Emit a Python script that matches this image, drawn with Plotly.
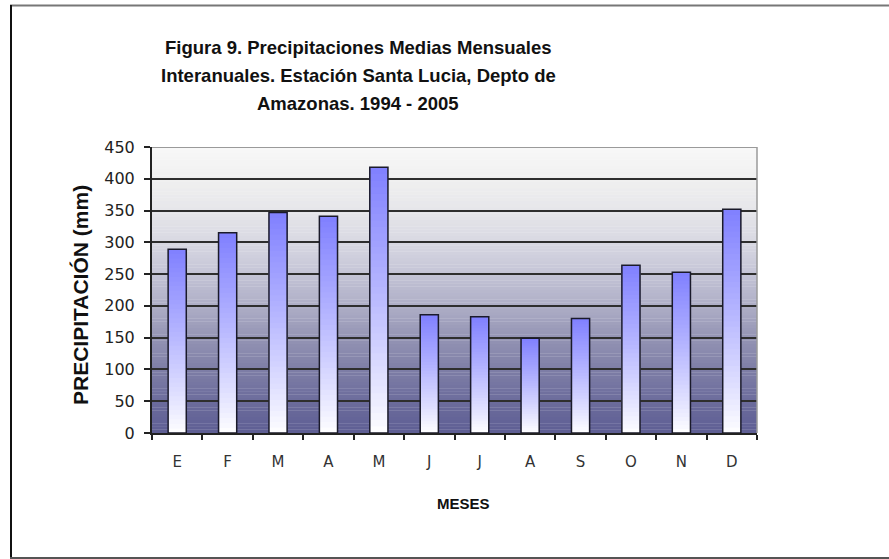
import plotly.graph_objects as go

months = ["E", "F", "M", "A", "M ", "J", "J ", "A ", "S", "O", "N", "D"]
month_labels = ["E", "F", "M", "A", "M", "J", "J", "A", "S", "O", "N", "D"]
precip = [289, 315, 347, 341, 418, 186, 183, 149, 180, 264, 253, 352]
y_ticks = [0, 50, 100, 150, 200, 250, 300, 350, 400, 450]
title_lines = ["Figura 9. Precipitaciones Medias Mensuales",
               "Interanuales. Estación Santa Lucia, Depto de",
               "Amazonas. 1994 - 2005"]

# plot-area pixel geometry
W, H = 889, 559
L, R, T, B = 152, 757, 147, 433
PW, PH = R - L, B - T

def px_x(p):
    return (p - L) / PW

def px_y(p):
    return (B - p) / PH

def lerp(c1, c2, t):
    return tuple(round(a + (b - a) * t) for a, b in zip(c1, c2))

def hexc(c):
    return "#%02x%02x%02x" % c

fig = go.Figure()

# gradient bars: overlapping segments, each from k/N of the bar up to its top
N = 40
top_col = (0x80, 0x80, 0xff)
bot_col = (0xff, 0xff, 0xff)
for k in range(N):
    t = (k + 0.5) / N
    col = hexc(lerp(bot_col, top_col, t ** 0.9))
    fig.add_trace(go.Bar(
        x=months, y=[v * (N - k) / N for v in precip], base=[v * k / N for v in precip],
        marker=dict(color=col, line=dict(width=0)), width=0.36,
        hoverinfo="skip", showlegend=False))
fig.add_trace(go.Bar(
    x=months, y=precip, base=[0] * len(precip),
    marker=dict(color="rgba(0,0,0,0)", line=dict(color="#1a1a2a", width=1.5)),
    width=0.36, showlegend=False, name="Precipitación"))

shapes = []
# background gradient bands
stops = [(0, (0x5e, 0x5e, 0x94)), (50, (0x6c, 0x6c, 0x9c)), (100, (0x7e, 0x7e, 0xa6)),
         (150, (0x94, 0x94, 0xb4)), (200, (0xae, 0xae, 0xc6)), (250, (0xc4, 0xc4, 0xd6)),
         (300, (0xd8, 0xd8, 0xe2)), (350, (0xe6, 0xe6, 0xea)), (400, (0xf0, 0xf0, 0xf0)),
         (450, (0xf8, 0xf8, 0xf8))]
step = 5
for y0 in range(0, 450, step):
    ym = y0 + step / 2
    for (a, ca), (b, cb) in zip(stops[:-1], stops[1:]):
        if a <= ym <= b:
            c = lerp(ca, cb, (ym - a) / (b - a))
            break
    shapes.append(dict(type="rect", xref="paper", yref="y", x0=0, x1=1, y0=y0, y1=y0 + step + 0.5,
                       fillcolor=hexc(c), line=dict(width=0), layer="below"))
# plot-area top and right border (gray)
shapes.append(dict(type="line", xref="paper", yref="y", x0=0, x1=1, y0=450, y1=450,
                   line=dict(color="#9a9a9a", width=2), layer="above"))
shapes.append(dict(type="line", xref="paper", yref="y", x0=1, x1=1, y0=0, y1=450,
                   line=dict(color="#9a9a9a", width=1.5), layer="above"))
# outer image frame
shapes.append(dict(type="line", xref="paper", yref="paper", x0=px_x(10), x1=px_x(889),
                   y0=px_y(5.5), y1=px_y(5.5), line=dict(color="#777777", width=2)))
shapes.append(dict(type="line", xref="paper", yref="paper", x0=px_x(11), x1=px_x(11),
                   y0=px_y(5), y1=px_y(559), line=dict(color="#111111", width=2)))
shapes.append(dict(type="line", xref="paper", yref="paper", x0=px_x(10), x1=px_x(889),
                   y0=px_y(558), y1=px_y(558), line=dict(color="#555555", width=2)))

annotations = []
for i, line in enumerate(title_lines):
    annotations.append(dict(text="<b>%s</b>" % line, xref="paper", yref="paper",
                            x=px_x(358), y=px_y(47 + 28 * i), xanchor="center", yanchor="middle",
                            showarrow=False, font=dict(family="Liberation Sans", size=18.5, color="#111")))
annotations.append(dict(text="<b>MESES</b>", xref="paper", yref="paper", x=px_x(463), y=px_y(503),
                        xanchor="center", yanchor="middle", showarrow=False,
                        font=dict(family="Liberation Sans", size=15, color="#111")))
annotations.append(dict(text="<b>PRECIPITACIÓN (mm)</b>", xref="paper", yref="paper", x=px_x(80),
                        y=px_y(295), xanchor="center", yanchor="middle", textangle=-90, showarrow=False,
                        font=dict(family="Liberation Sans", size=21, color="#111")))

fig.update_layout(
    width=W, height=H, margin=dict(l=L, r=W - R, t=T, b=H - B),
    paper_bgcolor="white", plot_bgcolor="rgba(0,0,0,0)",
    barmode="overlay", shapes=shapes, annotations=annotations,
    font=dict(family="DejaVu Sans", color="#222"),
)
fig.update_xaxes(
    type="category", tickmode="array", tickvals=months, ticktext=month_labels,
    showline=True, linecolor="#222", linewidth=2, ticks="outside", tickson="boundaries",
    ticklen=5, tickcolor="#222", tickwidth=1.5, showgrid=False, zeroline=False,
    tickfont=dict(family="DejaVu Sans", size=15, color="#333"), ticklabelstandoff=14,
)
fig.update_yaxes(
    range=[0, 450], tickvals=y_ticks, showline=True, linecolor="#222", linewidth=2,
    ticks="outside", ticklen=6, tickcolor="#222", tickwidth=1.5,
    showgrid=True, gridcolor="#2e2e2e", gridwidth=2, zeroline=False,
    tickfont=dict(family="DejaVu Sans", size=16, color="#222"), ticklabelstandoff=6,
)

fig.write_html("out.html")
